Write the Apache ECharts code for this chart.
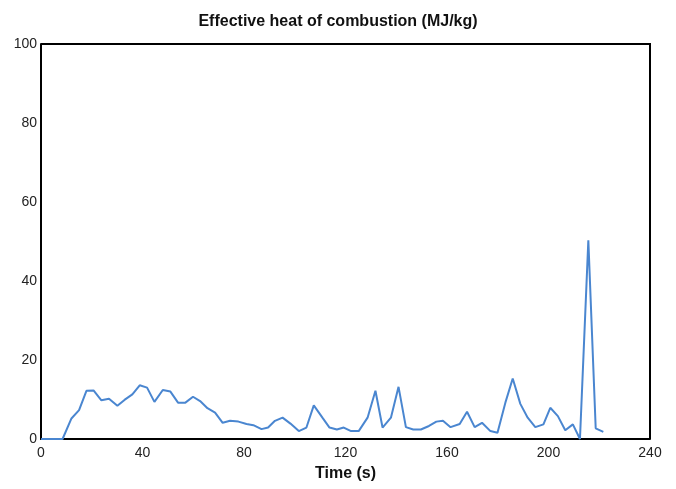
<!DOCTYPE html>
<html>
<head>
<meta charset="utf-8">
<script src="https://cdn.jsdelivr.net/npm/echarts@6/dist/echarts.min.js"></script>
<style>
  html, body { margin: 0; padding: 0; background: #fff; }
  #chart { width: 676px; height: 489px; }
</style>
</head>
<body>
<div id="chart"></div>
<script>
  // time (s) and effective heat of combustion (MJ/kg)
  const times = [0, 3, 6, 8.5, 12.0, 15.0, 17.9, 20.7, 23.8, 26.8, 30.1, 32.9, 36.0, 38.9, 41.8, 44.7,
    48.0, 51.0, 54.0, 56.9, 59.9, 62.7, 65.6, 68.6, 71.6, 74.5, 77.8, 81.0, 83.7, 86.9, 89.5, 92.2,
    95.2, 98.3, 101.6, 104.6, 107.5, 110.9, 113.7, 116.6, 119.3, 122.2, 125.2, 128.7, 131.8, 134.6,
    137.9, 140.9, 143.8, 146.7, 149.7, 152.9, 155.8, 158.4, 161.4, 165.0, 167.9, 170.9, 173.8, 177.1,
    179.9, 183.0, 185.9, 188.9, 191.8, 194.8, 198.0, 200.7, 203.7, 206.6, 209.6, 212.4, 215.7, 218.6, 221.6];
  const heat = [0, 0, 0, 0, 5.2, 7.3, 12.2, 12.3, 9.8, 10.2, 8.4, 9.9, 11.3, 13.6, 13.0, 9.4,
    12.4, 12.0, 9.2, 9.2, 10.7, 9.6, 7.8, 6.7, 4.1, 4.6, 4.4, 3.8, 3.5, 2.5, 2.9, 4.6,
    5.4, 3.9, 2.0, 2.9, 8.5, 5.4, 2.9, 2.4, 2.9, 2.0, 2.0, 5.4, 12.2, 2.9,
    5.4, 13.2, 3.0, 2.4, 2.4, 3.3, 4.4, 4.6, 3.0, 3.8, 6.9, 3.0, 4.1, 2.0,
    1.6, 9.2, 15.3, 8.9, 5.4, 3.0, 3.7, 7.9, 5.8, 2.2, 3.7, 0, 50.3, 2.7, 1.8];
  const xTicks = [0, 40, 80, 120, 160, 200, 240];
  const yTicks = [0, 20, 40, 60, 80, 100];

  const myChart = echarts.init(document.getElementById('chart'));
  const font = 'Liberation Sans, Arial, sans-serif';

  const option = {
    animation: false,
    title: {
      text: 'Effective heat of combustion (MJ/kg)',
      left: 'center',
      top: 9,
      textStyle: { fontFamily: font, fontSize: 16, fontWeight: 'bold', color: '#111' }
    },
    grid: { left: 41, right: 26, top: 44, bottom: 50 },
    xAxis: {
      type: 'value',
      min: xTicks[0],
      max: xTicks[xTicks.length - 1],
      interval: 40,
      name: 'Time (s)',
      nameLocation: 'middle',
      nameGap: 27,
      nameTextStyle: { fontFamily: font, fontSize: 16, fontWeight: 'bold', color: '#111' },
      axisLine: { show: true, lineStyle: { color: '#000', width: 2 } },
      axisTick: { show: false },
      splitLine: { show: false },
      axisLabel: { fontFamily: font, fontSize: 14, color: '#222', margin: 7 }
    },
    yAxis: {
      type: 'value',
      min: yTicks[0],
      max: yTicks[yTicks.length - 1],
      interval: 20,
      axisLine: { show: true, lineStyle: { color: '#000', width: 2 } },
      axisTick: { show: false },
      splitLine: { show: false },
      axisLabel: { fontFamily: font, fontSize: 14, color: '#222', margin: 4 }
    },
    series: [{
      type: 'line',
      data: times.map((t, i) => [t, heat[i]]),
      showSymbol: false,
      lineStyle: { color: '#4a86d0', width: 2 },
      itemStyle: { color: '#4a86d0' }
    }],
    // frame top and right edges
    graphic: []
  };
  myChart.setOption(option);

  // draw the remaining two sides of the box from the grid rect
  const rect = myChart.getModel().getComponent('grid').coordinateSystem.getRect();
  myChart.setOption({
    graphic: [{
      type: 'polyline',
      shape: { points: [[rect.x, rect.y], [rect.x + rect.width, rect.y], [rect.x + rect.width, rect.y + rect.height]] },
      style: { stroke: '#000', lineWidth: 2, fill: null },
      z: 10
    }]
  });
</script>
</body>
</html>
